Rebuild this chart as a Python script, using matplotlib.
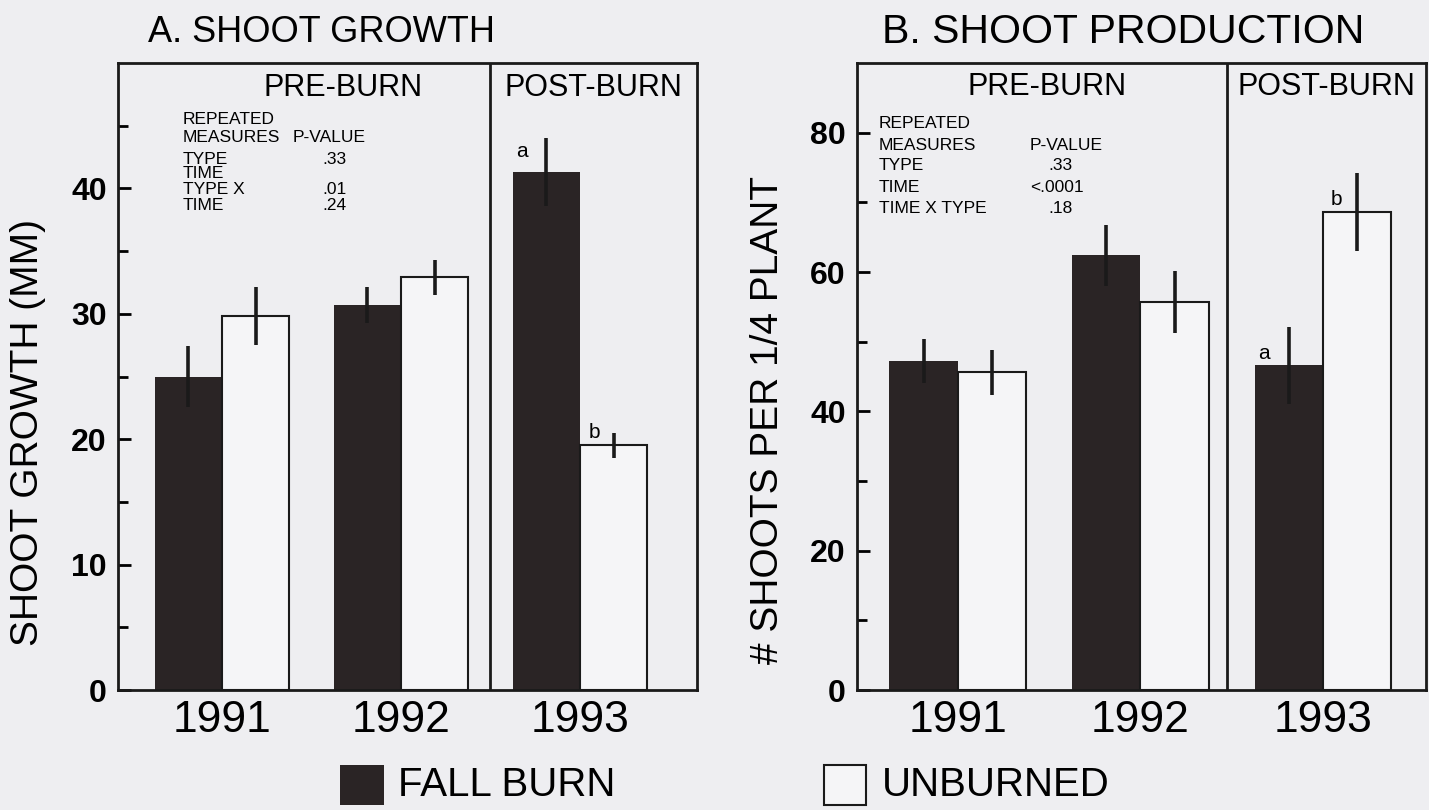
import numpy as np
import matplotlib
matplotlib.use("Agg")
import matplotlib.pyplot as plt
from matplotlib.patches import Rectangle

plt.rcParams['font.family'] = ['Liberation Sans', 'DejaVu Sans']

# ---------------- data ----------------
years = ["1991", "1992", "1993"]
growth_burn = [25.0, 30.7, 41.3]
growth_burn_err = [2.4, 1.4, 2.7]
growth_unburn = [29.8, 32.9, 19.5]
growth_unburn_err = [2.3, 1.4, 1.0]

prod_burn = [47.2, 62.4, 46.6]
prod_burn_err = [3.2, 4.4, 5.5]
prod_unburn = [45.6, 55.7, 68.6]
prod_unburn_err = [3.2, 4.5, 5.6]

stats_a_left = ["REPEATED", "MEASURES", "TYPE", "TIME", "TYPE X", "TIME"]
stats_a_right = ["P-VALUE", ".33", ".01", ".24"]
stats_b_left = ["REPEATED", "MEASURES", "TYPE", "TIME", "TIME X TYPE"]
stats_b_right = ["P-VALUE", ".33", "<.0001", ".18"]

# ---------------- styles ----------------
W, H = 1429, 810
BG = "#eeeef1"
DARK = "#2a2425"
LIGHT = "#f5f5f7"
LW = 2.0
narrow = ['Liberation Sans Narrow', 'Liberation Sans', 'DejaVu Sans']

fig = plt.figure(figsize=(W / 100, H / 100), dpi=100, facecolor=BG)


def fx(px):
    return px / W


def fy(py):
    return 1 - py / H


def make_panel(left_px, right_px, xlim, ylim, major, minor, divider,
               burn, burn_err, unburn, unburn_err):
    ax = fig.add_axes([fx(left_px), fy(690), fx(right_px - left_px), (690 - 63) / H])
    ax.set_facecolor(BG)
    x = np.arange(len(years))
    w = 0.375
    ax.bar(x - w / 2, burn, width=w, color=DARK, edgecolor=DARK, linewidth=0, zorder=2)
    ax.bar(x + w / 2, unburn, width=w, color=LIGHT, edgecolor="#1a1a1a", linewidth=1.5, zorder=2)
    ax.errorbar(x - w / 2, burn, yerr=burn_err, fmt="none", ecolor="#1a1a1a",
                elinewidth=2.6, capsize=0, zorder=3)
    ax.errorbar(x + w / 2, unburn, yerr=unburn_err, fmt="none", ecolor="#1a1a1a",
                elinewidth=2.6, capsize=0, zorder=3)
    ax.axvline(divider, color="#1a1a1a", lw=LW, zorder=4)
    ax.set_xlim(*xlim)
    ax.set_ylim(*ylim)
    ax.set_yticks(major)
    ax.set_yticks(minor, minor=True)
    ax.set_yticklabels([str(v) for v in major], fontsize=23, fontweight="bold")
    ax.tick_params(axis="y", which="major", direction="in", length=9, width=LW, pad=8, left=True, right=False)
    ax.tick_params(axis="y", which="minor", direction="in", length=7, width=LW, left=True, right=False)
    ax.set_xticks(x)
    ax.set_xticklabels(years, fontsize=32)
    ax.tick_params(axis="x", length=0, pad=7)
    for s in ax.spines.values():
        s.set_linewidth(LW)
        s.set_color("#1a1a1a")
    return ax, x, w


# Panel A
axA, xA, wA = make_panel(118, 697, (-0.581, 2.654), (0, 50), [0, 10, 20, 30, 40],
                         [5, 15, 25, 35, 45], 1.5,
                         growth_burn, growth_burn_err, growth_unburn, growth_unburn_err)
# Panel B
axB, xB, wB = make_panel(857, 1426, (-0.553, 2.564), (0, 90), [0, 20, 40, 60, 80],
                         [10, 30, 50, 70], 1.474,
                         prod_burn, prod_burn_err, prod_unburn, prod_unburn_err)

# section headers
axA.text(0.674, 48.0, "PRE-BURN", fontsize=22, ha="center", va="center")
axA.text(2.075, 48.0, "POST-BURN", fontsize=22, ha="center", va="center")
axB.text(0.49, 86.5, "PRE-BURN", fontsize=22, ha="center", va="center")
axB.text(2.02, 86.5, "POST-BURN", fontsize=22, ha="center", va="center")

# significance letters
axA.text(xA[2] - wA + 0.02, growth_burn[2] + 0.9, "a", fontsize=15, ha="left", va="bottom")
axA.text(xA[2] + 0.05, growth_unburn[2] + 0.3, "b", fontsize=15, ha="left", va="bottom")
axB.text(xB[2] - wB + 0.02, prod_burn[2] + 0.4, "a", fontsize=15, ha="left", va="bottom")
axB.text(xB[2] + 0.04, prod_unburn[2] + 0.4, "b", fontsize=15, ha="left", va="bottom")

# stats tables (placed in figure pixels)
fs_stat = 12.5
a_left_y = [120, 137, 159, 173, 190, 206]
for t, yy in zip(stats_a_left, a_left_y):
    fig.text(fx(183), fy(yy), t, fontsize=fs_stat, family=narrow, va="center", ha="left")
a_right_pos = [(293, 137), (322, 159), (322, 190), (322, 206)]
for t, (xx, yy) in zip(stats_a_right, a_right_pos):
    fig.text(fx(xx), fy(yy), t, fontsize=fs_stat, family=narrow, va="center", ha="left")

b_left_y = [123, 145, 166, 187, 208]
for t, yy in zip(stats_b_left, b_left_y):
    fig.text(fx(879), fy(yy), t, fontsize=fs_stat, family=narrow, va="center", ha="left")
b_right_pos = [(1030, 145), (1048, 166), (1030, 187), (1048, 208)]
for t, (xx, yy) in zip(stats_b_right, b_right_pos):
    fig.text(fx(xx), fy(yy), t, fontsize=fs_stat, family=narrow, va="center", ha="left")

# titles
fig.text(fx(148), fy(32), "A. SHOOT GROWTH", fontsize=26, ha="left", va="center")
fig.text(fx(882), fy(32), "B. SHOOT PRODUCTION", fontsize=29.5, ha="left", va="center")

# y labels
fig.text(fx(28), fy(432), "SHOOT GROWTH (MM)", fontsize=28, rotation=90, ha="center", va="center")
fig.text(fx(768), fy(420), "# SHOOTS PER 1/4 PLANT", fontsize=28, rotation=90, ha="center", va="center")

# legend
fig.patches.append(Rectangle((fx(340), fy(805)), fx(44), 40 / H, transform=fig.transFigure,
                             facecolor=DARK, edgecolor=DARK, lw=0))
fig.text(fx(398), fy(785), "FALL BURN", fontsize=29, ha="left", va="center")
fig.patches.append(Rectangle((fx(824), fy(805)), fx(42), 40 / H, transform=fig.transFigure,
                             facecolor=LIGHT, edgecolor="#1a1a1a", lw=1.5))
fig.text(fx(882), fy(785), "UNBURNED", fontsize=29, ha="left", va="center")

fig.savefig("out.png", dpi=100, facecolor=BG)
